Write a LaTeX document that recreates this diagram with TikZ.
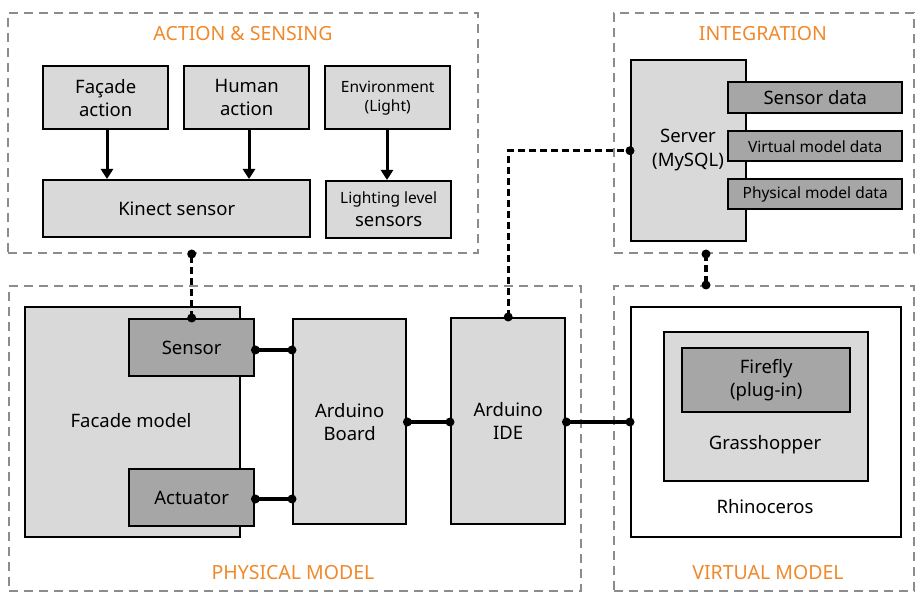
\documentclass[tikz,border=0pt]{standalone}
\usepackage{fontspec}
\setmainfont{Noto Sans}
\usetikzlibrary{arrows.meta,calc}
\definecolor{lgray}{HTML}{D9D9D9}
\definecolor{dgray}{HTML}{A6A6A6}
\definecolor{ttl}{HTML}{F0892B}
\definecolor{grp}{HTML}{8C8C8C}
\begin{document}
\begin{tikzpicture}[x=1pt,y=-1pt,
  grpbox/.style={draw=grp, line width=2pt, dash pattern=on 9pt off 6pt, anchor=north west, inner sep=0pt},
  lbox/.style={draw=black, line width=2.4pt, fill=lgray, anchor=north west, inner sep=0pt, align=center, font=\fontsize{18.5}{23}\selectfont},
  dbox/.style={lbox, fill=dgray},
  wbox/.style={lbox, fill=white},
  ttltext/.style={text=ttl, font=\fontsize{19.5}{23}\selectfont},
  mtext/.style={font=\fontsize{18.5}{24}\selectfont, align=center},
  conn/.style={line width=3.2pt},
  dconn/.style={line width=3.4pt, dash pattern=on 7pt off 4pt},
  arr/.style={line width=3pt, -{Triangle[length=10pt,width=12pt]}},
  small/.style={font=\fontsize{15.5}{19}\selectfont},
]
\useasboundingbox (0,0) rectangle (916,593);
% groups
\node[grpbox, minimum width=470pt, minimum height=240pt] (gact) at (7,12) {};
\node[grpbox, minimum width=300pt, minimum height=240pt] (gint) at (613,12) {};
\node[grpbox, minimum width=572pt, minimum height=305pt] (gphy) at (8,285) {};
\node[grpbox, minimum width=300pt, minimum height=305pt] (gvir) at (613,285) {};
\node[ttltext] (tact) at (243,34) {ACTION \& SENSING};
\node[ttltext] (tint) at (763,34) {INTEGRATION};
\node[ttltext] (tphy) at (293,573) {PHYSICAL MODEL};
\node[ttltext] (tvir) at (768,573) {VIRTUAL MODEL};
% action & sensing
\node[lbox, minimum width=125pt, minimum height=63pt] (fa) at (42,65) {Façade\\action};
\node[lbox, minimum width=125pt, minimum height=63pt] (ha) at (183,65) {Human\\action};
\node[lbox, small, minimum width=125pt, minimum height=63pt] (env) at (324,65) {Environment\\(Light)};
\node[lbox, minimum width=267pt, minimum height=57pt] (kin) at (42,179) {Kinect sensor};
\node[lbox, minimum width=125pt, minimum height=57pt] (lls) at (325,180) {{\fontsize{15.5}{19}\selectfont Lighting level}\\sensors};
\draw[arr] (fa.south -| 107,0) -- (kin.north -| 107,0);
\draw[arr] (ha.south -| 249,0) -- (kin.north -| 249,0);
\draw[arr] (env.south -| 387,0) -- (lls.north -| 387,0);
% integration
\node[lbox, minimum width=115pt, minimum height=181pt] (srv) at (630,59) {};
\node[mtext] (srvt) at (688,150) {Server\\(MySQL)};
\node[dbox, minimum width=174pt, minimum height=31pt] (sd) at (727,81) {Sensor data};
\node[dbox, small, minimum width=174pt, minimum height=30pt] (vmd) at (727,130) {Virtual model data};
\node[dbox, small, minimum width=174pt, minimum height=30pt] (pmd) at (727,178) {Physical model data};
% physical model
\node[lbox, minimum width=215pt, minimum height=230pt] (fac) at (24,306) {};
\node[mtext] (fact) at (131,421) {Facade model};
\node[dbox, minimum width=125pt, minimum height=57pt] (sen) at (128,318) {Sensor};
\node[dbox, minimum width=125pt, minimum height=57pt] (act) at (128,468) {Actuator};
\node[lbox, minimum width=113pt, minimum height=205pt] (brd) at (292,318) {Arduino\\Board};
\node[lbox, minimum width=114pt, minimum height=206pt] (ide) at (450,317) {Arduino\\IDE};
% virtual model
\node[wbox, minimum width=270pt, minimum height=230pt] (rhi) at (630,306) {};
\node[mtext] (rhit) at (765,507) {Rhinoceros};
\node[lbox, minimum width=204pt, minimum height=149pt] (gh) at (663,331) {};
\node[mtext] (ght) at (765,445) {Grasshopper};
\node[dbox, minimum width=168pt, minimum height=64pt] (ff) at (681,347) {Firefly\\(plug-in)};
% connectors
\coordinate (y350) at (0,350);
\coordinate (y499) at (0,499);
\coordinate (y422) at (0,422);
\coordinate (x706) at (706,0);
\draw[conn] (sen.east |- y350) -- (brd.west |- y350);
\draw[conn] (act.east |- y499) -- (brd.west |- y499);
\draw[conn] (brd.east |- y422) -- (ide.west |- y422);
\draw[conn] (ide.east |- y422) -- (rhi.west |- y422);
\draw[dconn] (sen.north) -- (sen.north |- gact.south);
\draw[dconn] (ide.north) -- (ide.north |- srv.west) -- (srv.west);
\draw[dconn] (gint.south -| x706) -- (gvir.north -| x706);
% dots
\foreach \p in {sen.east |- y350, brd.west |- y350, act.east |- y499, brd.west |- y499,
  brd.east |- y422, ide.west |- y422, ide.east |- y422, rhi.west |- y422,
  sen.north, sen.north |- gact.south, ide.north, srv.west,
  gint.south -| x706, gvir.north -| x706}
  \fill (\p) circle (4.5pt);
\end{tikzpicture}
\end{document}
